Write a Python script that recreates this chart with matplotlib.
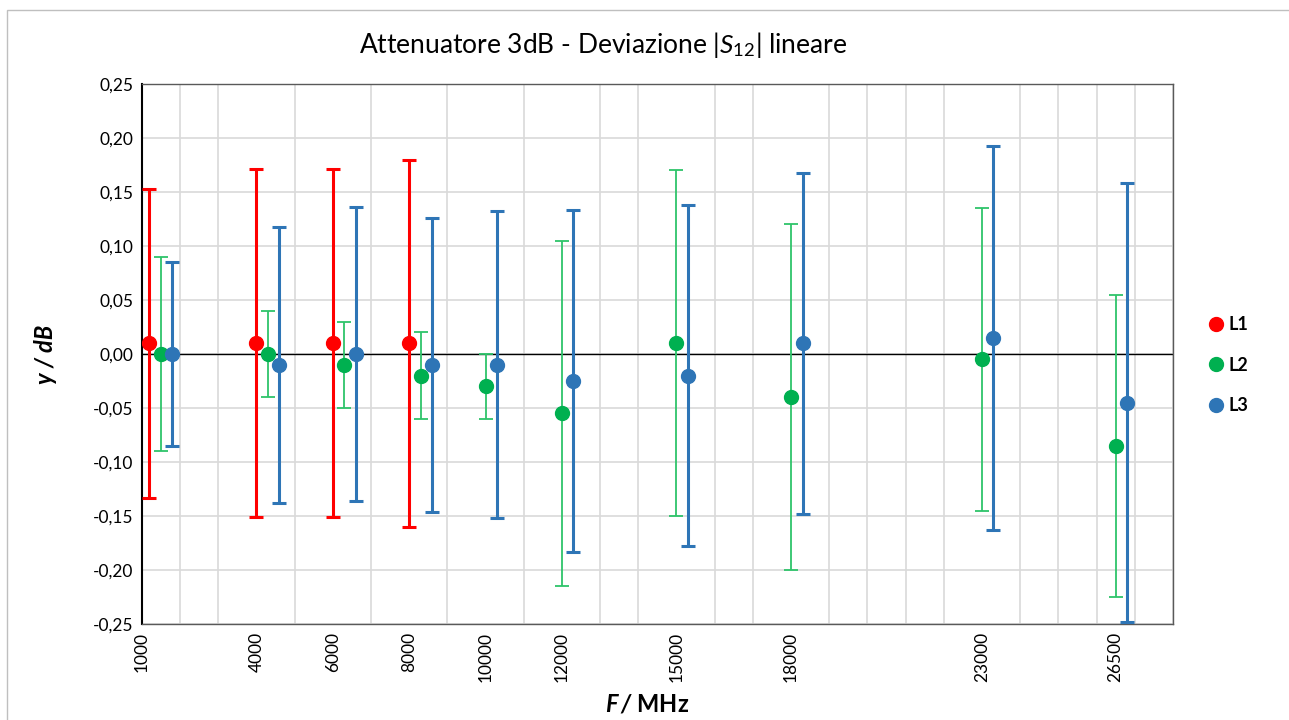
import matplotlib
matplotlib.use("Agg")
import matplotlib.pyplot as plt
from matplotlib.lines import Line2D
from matplotlib.patches import Rectangle
from matplotlib.ticker import FuncFormatter, MultipleLocator

plt.rcParams['font.family'] = ['Lato', 'DejaVu Sans']
plt.rcParams['mathtext.fontset'] = 'custom'
plt.rcParams['mathtext.it'] = 'Lato:italic'
plt.rcParams['mathtext.rm'] = 'Lato'
plt.rcParams['mathtext.bf'] = 'Lato:italic:bold'

# frequency labels on the x axis (MHz)
freq_labels = [1000, 4000, 6000, 8000, 10000, 12000, 15000, 18000, 23000, 26500]

# L1
l1_x = [1200, 4000, 6000, 8000]
l1_y = [0.01, 0.01, 0.01, 0.01]
l1_err = [0.143, 0.161, 0.161, 0.170]

# L2
l2_x = [1500, 4300, 6300, 8300, 10000, 12000, 15000, 18000, 23000, 26500]
l2_y = [0.0, 0.0, -0.01, -0.02, -0.03, -0.055, 0.01, -0.04, -0.005, -0.085]
l2_err = [0.09, 0.04, 0.04, 0.04, 0.03, 0.16, 0.16, 0.16, 0.14, 0.14]

# L3
l3_x = [1800, 4600, 6600, 8600, 10300, 12300, 15300, 18300, 23300, 26800]
l3_y = [0.0, -0.01, 0.0, -0.01, -0.01, -0.025, -0.02, 0.01, 0.015, -0.045]
l3_err = [0.085, 0.128, 0.136, 0.136, 0.142, 0.158, 0.158, 0.158, 0.178, 0.203]

red = '#FF0000'
green = '#00B050'
blue = '#2E75B6'

fig = plt.figure(figsize=(12.89, 7.2), dpi=100)
ax = fig.add_axes([0.110, 0.1333, 0.800, 0.750])

ax.axhline(0, color='black', lw=1.0, zorder=2)

ax.errorbar(l1_x, l1_y, yerr=l1_err, fmt='o', color=red, ms=10,
            elinewidth=2.2, capsize=5, capthick=2.2, zorder=4)
ax.errorbar(l2_x, l2_y, yerr=l2_err, fmt='o', color=green, ms=10,
            ecolor='#2EC46A', elinewidth=1.3, capsize=5, capthick=1.3, zorder=4)
ax.errorbar(l3_x, l3_y, yerr=l3_err, fmt='o', color=blue, ms=10,
            elinewidth=2.2, capsize=5, capthick=2.2, zorder=4, clip_on=False)

ax.set_xlim(1000, 28000)
ax.set_ylim(-0.25, 0.25)
ax.xaxis.set_minor_locator(MultipleLocator(1000))
ax.set_xticks(freq_labels)
ax.set_xticklabels([str(f) for f in freq_labels], rotation=90, fontsize=12.5)
ax.yaxis.set_major_locator(MultipleLocator(0.05))
ax.yaxis.set_major_formatter(FuncFormatter(lambda v, p: f"{v:.2f}".replace('.', ',').replace('-0,00', '0,00')))
ax.tick_params(axis='both', which='both', length=0, labelsize=12.5, pad=6)
ax.grid(True, axis='x', which='minor', color='#D9D9D9', lw=1.2, zorder=0)
ax.grid(True, axis='y', which='major', color='#D9D9D9', lw=1.2, zorder=0)
ax.grid(False, axis='x', which='major')
ax.set_axisbelow(True)

for side in ['top', 'right', 'bottom']:
    ax.spines[side].set_color('#595959')
    ax.spines[side].set_linewidth(1.0)
ax.spines['left'].set_color('black')
ax.spines['left'].set_linewidth(1.5)

fig.text(0.502, 0.022, r'$\mathbf{F\,/}$ MHz', ha='center', va='center',
         fontsize=17, fontweight='bold')
fig.text(0.035, 0.508, 'y / dB', ha='center', va='center', rotation=90,
         fontsize=17, fontweight='bold', style='italic')
fig.text(0.468, 0.938, r'Attenuatore 3dB - Deviazione $|S_{12}|$ lineare',
         ha='center', va='center', fontsize=19)

handles = [Line2D([], [], marker='o', ls='', color=c, ms=10) for c in (red, green, blue)]
fig.legend(handles, ['L1', 'L2', 'L3'], loc='center left', bbox_to_anchor=(0.925, 0.493),
           frameon=False, handlelength=0.8, handletextpad=0.3, labelspacing=1.3,
           prop={'weight': 'bold', 'size': 13})

fig.patches.append(Rectangle((0.0055, -0.01), 1.0, 0.996, transform=fig.transFigure,
                             fill=False, edgecolor='#BFBFBF', lw=1.0))

fig.savefig('out.png', dpi=100)
